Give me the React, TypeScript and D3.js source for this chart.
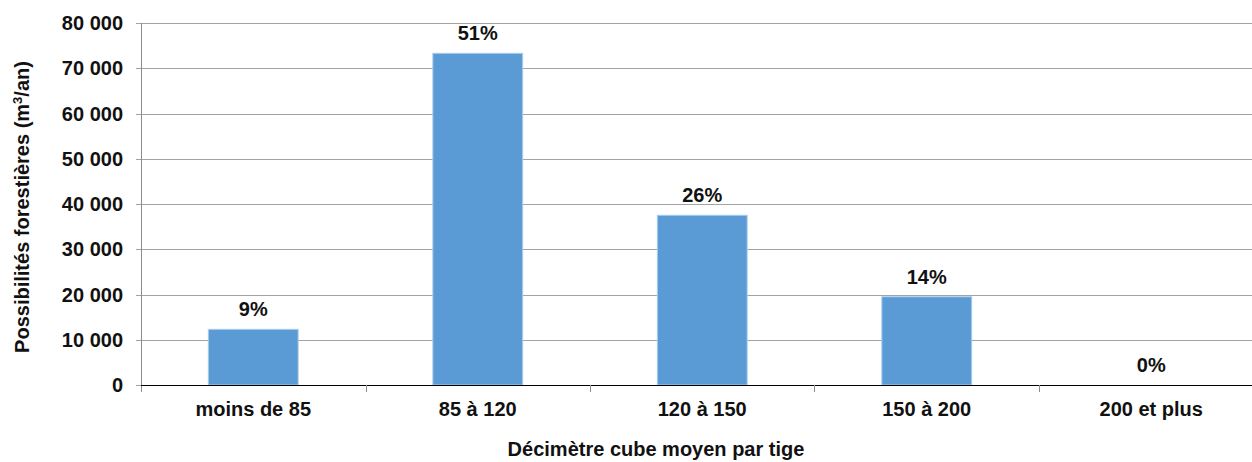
import { useEffect, useRef } from "react";
import * as d3 from "d3";

const categories = ["moins de 85", "85 à 120", "120 à 150", "150 à 200", "200 et plus"];
const volumes = [12300, 73300, 37500, 19500, 0];
const shares = ["9%", "51%", "26%", "14%", "0%"];
const yTicks = [0, 10000, 20000, 30000, 40000, 50000, 60000, 70000, 80000];

const WIDTH = 1252;
const HEIGHT = 462;
const PLOT = { left: 141, right: 1263.5, top: 23, bottom: 385 };
const FONT = "'Liberation Sans', Arial, sans-serif";

const fr = d3.formatLocale({ decimal: ",", thousands: " ", grouping: [3], currency: ["", " €"] });
const fmt = fr.format(",");

export default function App() {
  const svgRef = useRef<SVGSVGElement>(null);

  useEffect(() => {
    const svg = d3.select(svgRef.current);
    svg.selectAll("*").remove();

    svg.append("rect").attr("width", WIDTH).attr("height", HEIGHT).attr("fill", "#ffffff");

    const x = d3.scaleBand<string>()
      .domain(categories)
      .range([PLOT.left, PLOT.right])
      .paddingInner(0.6)
      .paddingOuter(0.3);

    const y = d3.scaleLinear().domain([0, 80000]).range([PLOT.bottom, PLOT.top]);

    // gridlines
    yTicks.filter((t) => t > 0).forEach((t) => {
      svg.append("line")
        .attr("x1", PLOT.left - 5)
        .attr("x2", PLOT.right)
        .attr("y1", Math.round(y(t)) + 0.5)
        .attr("y2", Math.round(y(t)) + 0.5)
        .attr("stroke", "#a3a3a3")
        .attr("stroke-width", 1);
    });

    // y axis line + zero tick
    svg.append("line")
      .attr("x1", PLOT.left + 0.5)
      .attr("x2", PLOT.left + 0.5)
      .attr("y1", PLOT.top)
      .attr("y2", PLOT.bottom + 7)
      .attr("stroke", "#8c8c8c");
    svg.append("line")
      .attr("x1", PLOT.left - 5)
      .attr("x2", PLOT.left)
      .attr("y1", PLOT.bottom + 0.5)
      .attr("y2", PLOT.bottom + 0.5)
      .attr("stroke", "#a3a3a3");

    // tick labels
    yTicks.forEach((t) => {
      svg.append("text")
        .attr("x", 123)
        .attr("y", y(t))
        .attr("dy", "0.36em")
        .attr("text-anchor", "end")
        .attr("font-family", FONT)
        .attr("font-weight", "bold")
        .attr("font-size", "20px")
        .attr("fill", "#111")
        .text(fmt(t));
    });

    // bars
    categories.forEach((c, i) => {
      const v = volumes[i];
      const x0 = x(c) ?? 0;
      if (v > 0) {
        svg.append("rect")
          .attr("x", x0)
          .attr("y", y(v))
          .attr("width", x.bandwidth())
          .attr("height", y(0) - y(v))
          .attr("fill", "#5b9bd5")
          .attr("stroke", "#a9cbec")
          .attr("stroke-width", 1);
      }
      svg.append("text")
        .attr("x", x0 + x.bandwidth() / 2)
        .attr("y", y(v) - 13)
        .attr("text-anchor", "middle")
        .attr("font-family", FONT)
        .attr("font-weight", "bold")
        .attr("font-size", "20px")
        .attr("fill", "#111")
        .text(shares[i]);

      svg.append("text")
        .attr("x", x0 + x.bandwidth() / 2)
        .attr("y", 416)
        .attr("text-anchor", "middle")
        .attr("font-family", FONT)
        .attr("font-weight", "bold")
        .attr("font-size", "20px")
        .attr("fill", "#111")
        .text(c);
    });

    // x axis line
    svg.append("line")
      .attr("x1", PLOT.left)
      .attr("x2", PLOT.right)
      .attr("y1", PLOT.bottom + 0.5)
      .attr("y2", PLOT.bottom + 0.5)
      .attr("stroke", "#000");

    // category separators
    categories.slice(1).forEach((c) => {
      const bx = Math.round((x(c) ?? 0) - (x.step() * x.paddingInner()) / 2) + 0.5;
      svg.append("line")
        .attr("x1", bx)
        .attr("x2", bx)
        .attr("y1", PLOT.bottom)
        .attr("y2", PLOT.bottom + 7)
        .attr("stroke", "#8c8c8c");
    });

    // axis titles
    svg.append("text")
      .attr("x", 656)
      .attr("y", 456)
      .attr("text-anchor", "middle")
      .attr("font-family", FONT)
      .attr("font-weight", "bold")
      .attr("font-size", "20px")
      .attr("fill", "#111")
      .text("Décimètre cube moyen par tige");

    const yTitle = svg.append("text")
      .attr("transform", `translate(29,207) rotate(-90)`)
      .attr("text-anchor", "middle")
      .attr("font-family", FONT)
      .attr("font-weight", "bold")
      .attr("font-size", "20px")
      .attr("fill", "#111");
    yTitle.append("tspan").text("Possibilités forestières (m");
    yTitle.append("tspan").attr("font-size", "13px").attr("dy", "-7").text("3");
    yTitle.append("tspan").attr("dy", "7").text("/an)");
  }, []);

  return (
    <svg
      ref={svgRef}
      width={WIDTH}
      height={HEIGHT}
      style={{ position: "absolute", left: 0, top: 0, overflow: "hidden" }}
    />
  );
}
